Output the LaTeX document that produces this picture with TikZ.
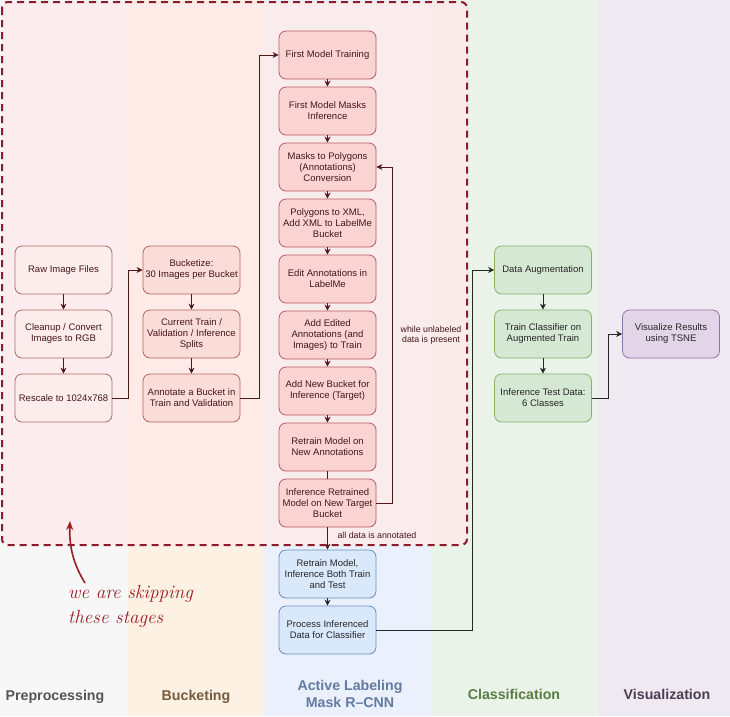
\documentclass[tikz,border=0pt]{standalone}
\usepackage{fontspec}
\setsansfont{Liberation Sans}
\usetikzlibrary{arrows.meta}
\definecolor{colpre}{RGB}{247,247,248}
\definecolor{colbuck}{RGB}{253,241,227}
\definecolor{colact}{RGB}{234,241,252}
\definecolor{colcls}{RGB}{233,243,231}
\definecolor{colvis}{RGB}{239,233,242}
\definecolor{ovcol}{RGB}{255,234,234}
\definecolor{dashred}{RGB}{139,28,44}
\definecolor{innertext}{RGB}{70,22,22}
\definecolor{innerline}{RGB}{80,25,25}
\definecolor{prefill}{RGB}{252,236,236}
\definecolor{predraw}{RGB}{176,105,105}
\definecolor{buckfill}{RGB}{250,221,216}
\definecolor{buckdraw}{RGB}{184,100,90}
\definecolor{redfill}{RGB}{249,212,211}
\definecolor{reddraw}{RGB}{184,92,90}
\definecolor{bluefill}{RGB}{218,232,252}
\definecolor{bluedraw}{RGB}{108,142,191}
\definecolor{greenfill}{RGB}{213,232,212}
\definecolor{greendraw}{RGB}{130,179,102}
\definecolor{purplefill}{RGB}{225,213,231}
\definecolor{purpledraw}{RGB}{150,115,166}
\definecolor{handred}{RGB}{155,30,35}
\definecolor{ttlpre}{RGB}{85,85,85}
\definecolor{ttlbuck}{RGB}{120,90,60}
\definecolor{ttlact}{RGB}{100,122,160}
\definecolor{ttlcls}{RGB}{90,125,70}
\definecolor{ttlvis}{RGB}{75,60,82}
\begin{document}
\begin{tikzpicture}[x=1pt,y=-1pt,
  box/.style={rectangle, rounded corners=7pt, minimum width=97pt, minimum height=48pt,
    align=center, font=\sffamily\fontsize{9.5}{11}\selectfont, line width=0.8pt, inner sep=0pt},
  prebox/.style={box, fill=prefill, draw=predraw, text=innertext},
  buckbox/.style={box, fill=buckfill, draw=buckdraw, text=innertext},
  redbox/.style={box, fill=redfill, draw=reddraw, text=innertext},
  bluebox/.style={box, fill=bluefill, draw=bluedraw, text=black!85},
  greenbox/.style={box, fill=greenfill, draw=greendraw, text=black!85},
  purplebox/.style={box, fill=purplefill, draw=purpledraw, text=black!85},
  arrin/.style={draw=innerline, line width=0.8pt, -{Stealth[length=6pt,width=6pt]}},
  linein/.style={draw=innerline, line width=0.8pt},
  arrout/.style={draw=black!85, line width=0.8pt, -{Stealth[length=6pt,width=6pt]}},
  ttl/.style={font=\sffamily\bfseries\fontsize{14.2}{17}\selectfont, align=center},
  elabel/.style={font=\sffamily\fontsize{8.8}{10.5}\selectfont, align=center}
]
\useasboundingbox (0,0) rectangle (730,716);
% columns
\fill[colpre] (0,0) rectangle (128,716);
\fill[colbuck] (128,0) rectangle (264,716);
\fill[colact] (264,0) rectangle (431,716);
\fill[colcls] (431,0) rectangle (598,716);
\fill[colvis] (598,0) rectangle (730,716);
% pink overlay of skipped stages
\fill[ovcol, opacity=0.78, rounded corners=6pt] (2,2) rectangle (467,545);

% titles
\node[ttl, text=ttlpre] (tpre) at (55,697) {Preprocessing};
\node[ttl, text=ttlbuck] (tbuck) at (196,697) {Bucketing};
\node[ttl, text=ttlact] (tact) at (350,694) {Active Labeling\\Mask R--CNN};
\node[ttl, text=ttlcls] (tcls) at (514,694) {Classification};
\node[ttl, text=ttlvis] (tvis) at (667,694) {Visualization};

% preprocessing
\node[prebox] (raw) at (63.5,270) {Raw Image Files};
\node[prebox] (clean) at (63.5,334) {Cleanup / Convert\\Images to RGB};
\node[prebox] (rescale) at (63.5,398) {Rescale to 1024x768};
% bucketing
\node[buckbox] (bucketize) at (191.5,270) {Bucketize:\\30 Images per Bucket};
\node[buckbox] (splits) at (191.5,334) {Current Train /\\Validation / Inference\\Splits};
\node[buckbox] (annot) at (191.5,398) {Annotate a Bucket in\\Train and Validation};
% active labeling
\node[redbox] (fmt) at (327.5,55) {First Model Training};
\node[redbox] (fmi) at (327.5,111) {First Model Masks\\Inference};
\node[redbox] (m2p) at (327.5,167) {Masks to Polygons\\(Annotations)\\Conversion};
\node[redbox] (p2x) at (327.5,223) {Polygons to XML,\\Add XML to LabelMe\\Bucket};
\node[redbox] (edit) at (327.5,279) {Edit Annotations in\\LabelMe};
\node[redbox] (addedit) at (327.5,335) {Add Edited\\Annotations (and\\Images) to Train};
\node[redbox] (addnew) at (327.5,391) {Add New Bucket for\\Inference (Target)};
\node[redbox] (retrain) at (327.5,447) {Retrain Model on\\New Annotations};
\node[redbox] (infret) at (327.5,503) {Inference Retrained\\Model on New Target\\Bucket};
\node[bluebox] (retrainb) at (327.5,574) {Retrain Model,\\Inference Both Train\\and Test};
\node[bluebox] (procinf) at (327.5,630) {Process Inferenced\\Data for Classifier};
% classification
\node[greenbox] (aug) at (543,270) {Data Augmentation};
\node[greenbox] (traincls) at (543,334) {Train Classifier on\\Augmented Train};
\node[greenbox] (inftest) at (543,398) {Inference Test Data:\\6 Classes};
% visualization
\node[purplebox] (vis) at (671,334) {Visualize Results\\using TSNE};

% connectors
\draw[arrin] (raw) -- (clean);
\draw[arrin] (clean) -- (rescale);
\draw[arrin] (rescale.east) -- ++(16,0) |- (bucketize.west);
\draw[arrin] (bucketize) -- (splits);
\draw[arrin] (splits) -- (annot);
\draw[arrin] (annot.east) -- ++(19,0) |- (fmt.west);
\draw[arrin] (fmt) -- (fmi);
\draw[arrin] (fmi) -- (m2p);
\draw[arrin] (m2p) -- (p2x);
\draw[arrin] (p2x) -- (edit);
\draw[arrin] (edit) -- (addedit);
\draw[arrin] (addedit) -- (addnew);
\draw[arrin] (addnew) -- (retrain);
\draw[linein] (retrain) -- (infret);
\draw[arrin] (infret.east) -- ++(16,0) |- (m2p.east);
\node[elabel, text=innertext] (lwhile) at (431,335) {while unlabeled\\data is present};
\draw[arrin] (infret) -- (retrainb);
\node[elabel, text=innertext, anchor=west] (lall) at (334,535) {all data is annotated};
\draw[arrout] (retrainb) -- (procinf);
\draw[arrout] (procinf.east) -- ++(95.5,0) |- (aug.west);
\draw[arrout] (aug) -- (traincls);
\draw[arrout] (traincls) -- (inftest);
\draw[arrout] (inftest.east) -- ++(16,0) |- (vis.west);

% dashed border
\draw[dashred, line width=2pt, dash pattern=on 7pt off 5pt, rounded corners=6pt] (2,2) rectangle (467,545);

% handwritten note
\node[text=handred, font=\rmfamily\itshape\fontsize{19}{25}\selectfont, align=left, anchor=north west, inner sep=0pt] (note) at (68,585) {we are skipping\\these stages};
\coordinate (notetip) at (70,521);
\draw[handred, line width=1.6pt, -{Stealth[length=9pt,width=7pt]}] (85,583) .. controls (74,565) and (69,548) .. (notetip);
\end{tikzpicture}
\end{document}
